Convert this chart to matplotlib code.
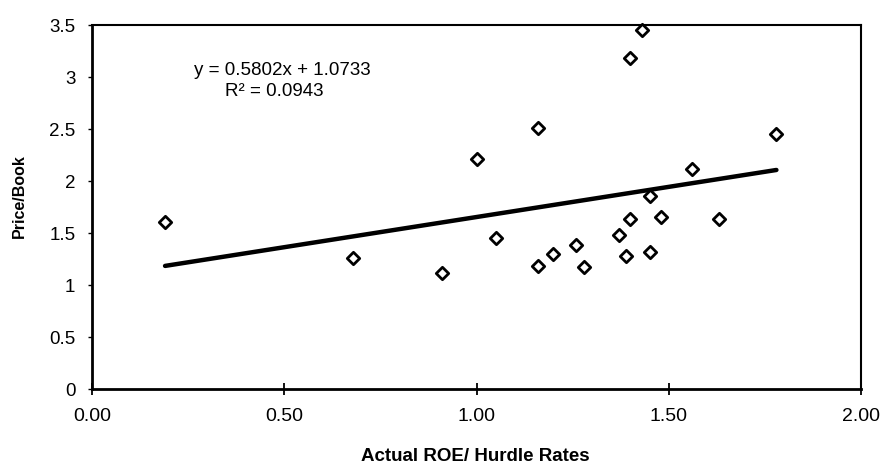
import numpy as np
import matplotlib.pyplot as plt

# Actual ROE / hurdle rate vs price-to-book
roe_hurdle = [0.19, 0.68, 0.91, 1.00, 1.05, 1.16, 1.16, 1.20, 1.26, 1.28, 1.37,
              1.39, 1.40, 1.40, 1.43, 1.45, 1.45, 1.48, 1.56, 1.63, 1.78]
price_book = [1.61, 1.26, 1.12, 2.21, 1.45, 1.18, 2.51, 1.30, 1.38, 1.17, 1.48,
              1.28, 1.63, 3.18, 3.45, 1.32, 1.86, 1.65, 2.12, 1.63, 2.45]

# linear trendline as printed on the chart
slope, intercept = 0.5802, 1.0733
r_squared = 0.0943

plt.rcParams['font.family'] = ['Liberation Sans', 'DejaVu Sans']

fig = plt.figure(figsize=(8.86, 4.69), dpi=100)
ax = fig.add_axes([92 / 886, 80 / 469, 769 / 886, 364 / 469])

ax.scatter(roe_hurdle, price_book, marker='D', s=40, facecolors='white',
           edgecolors='black', linewidths=2, zorder=3, clip_on=False)

xs = np.array([min(roe_hurdle), max(roe_hurdle)])
ax.plot(xs, slope * xs + intercept, color='black', lw=3.2, solid_capstyle='round', zorder=2)

ax.text(0.247, 0.876, 'y = %.4fx + %.4f' % (slope, intercept), transform=ax.transAxes,
        ha='center', va='center', fontsize=13.5)
ax.text(0.237, 0.818, 'R\u00b2 = %.4f' % r_squared, transform=ax.transAxes,
        ha='center', va='center', fontsize=13.5)

ax.set_xlim(0, 2)
ax.set_ylim(0, 3.5)
ax.set_xticks(np.arange(0, 2.01, 0.5))
ax.set_xticklabels(['%.2f' % v for v in np.arange(0, 2.01, 0.5)])
ax.set_yticks(np.arange(0, 3.51, 0.5))
ax.set_yticklabels(['0', '0.5', '1', '1.5', '2', '2.5', '3', '3.5'])

ax.tick_params(axis='x', direction='inout', length=9, width=1.3, labelsize=14, pad=9)
ax.tick_params(axis='y', direction='out', length=3, width=1, labelsize=13.5, pad=9)

for side in ['left', 'bottom']:
    ax.spines[side].set_linewidth(2)
for side in ['top', 'right']:
    ax.spines[side].set_linewidth(1.5)

ax.set_xlabel('Actual ROE/ Hurdle Rates', fontsize=13.5, fontweight='bold')
ax.set_ylabel('Price/Book', fontsize=11.5, fontweight='bold')
ax.xaxis.set_label_coords((475 - 92) / 769, (389 - 456) / 364)
ax.yaxis.set_label_coords((19 - 92) / 769, (389 - 196) / 364)
ax.xaxis.label.set_va('center')
ax.yaxis.label.set_va('center')

plt.savefig('out.png', dpi=100)
